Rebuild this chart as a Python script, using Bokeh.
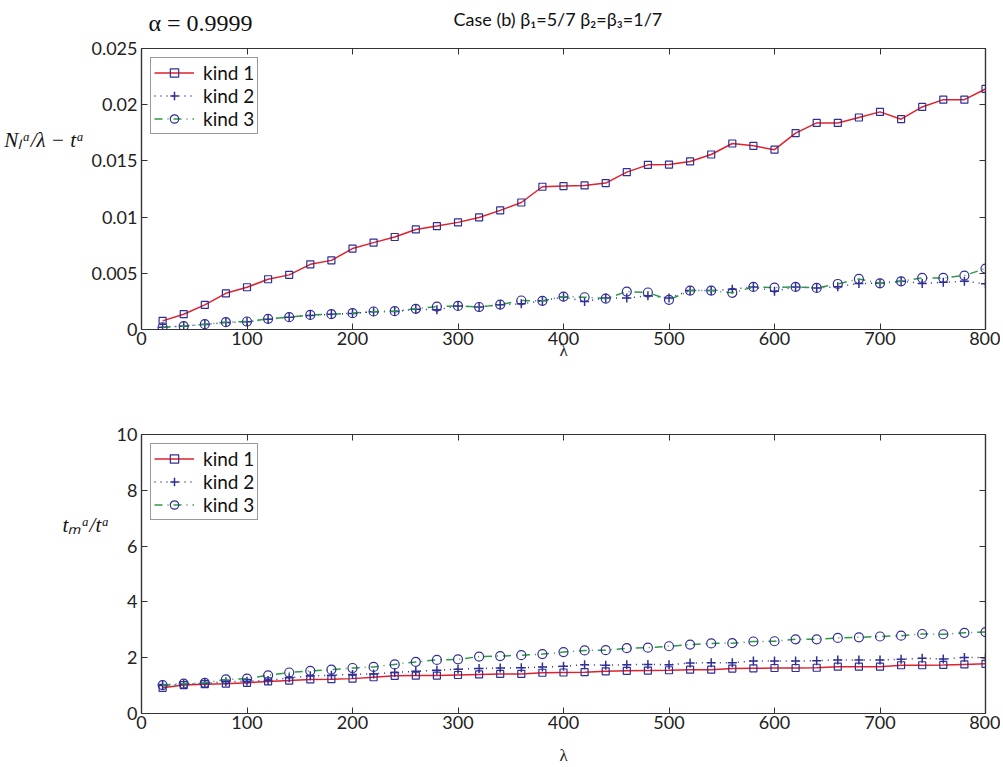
from bokeh.plotting import figure
from bokeh.models import (Range1d, LinearAxis, FixedTicker, Legend, LegendItem,
                          CustomJSTickFormatter)
from bokeh.core.properties import value
from bokeh.layouts import column
from bokeh.embed import file_html
from bokeh.resources import INLINE

# ---------------- data ----------------
lam = [20, 40, 60, 80, 100, 120, 140, 160, 180, 200, 220, 240, 260, 280, 300, 320, 340, 360, 380, 400,
       420, 440, 460, 480, 500, 520, 540, 560, 580, 600, 620, 640, 660, 680, 700, 720, 740, 760, 780, 800]

top_kind1 = [0.00077, 0.00136, 0.00219, 0.00322, 0.00376, 0.00447, 0.00486, 0.0058, 0.00615, 0.0072,
             0.00773, 0.00823, 0.0089, 0.0092, 0.00953, 0.00997, 0.0106, 0.0113, 0.0127, 0.01276,
             0.01282, 0.01303, 0.0140, 0.01465, 0.01467, 0.01495, 0.01557, 0.01655, 0.01634, 0.0160,
             0.01747, 0.01838, 0.01838, 0.01886, 0.01936, 0.01871, 0.0198, 0.02045, 0.02045, 0.0214]
top_kind2 = [0.0002, 0.0003, 0.00045, 0.00062, 0.00068, 0.00092, 0.0011, 0.00125, 0.00135, 0.00143,
             0.00158, 0.0016, 0.0018, 0.00175, 0.0021, 0.0020, 0.0022, 0.00228, 0.00255, 0.0029,
             0.0025, 0.0028, 0.0028, 0.0030, 0.0028, 0.00346, 0.00346, 0.00358, 0.00379, 0.0034,
             0.00379, 0.0037, 0.0038, 0.0041, 0.00411, 0.00429, 0.0041, 0.0042, 0.0043, 0.00406]
top_kind3 = [0.0002, 0.0003, 0.00047, 0.00065, 0.00071, 0.00095, 0.0011, 0.0013, 0.00136, 0.00145,
             0.0016, 0.00163, 0.00184, 0.00204, 0.0021, 0.0020, 0.00222, 0.00258, 0.00255, 0.00293,
             0.00287, 0.00275, 0.00337, 0.00329, 0.00264, 0.00346, 0.00346, 0.00326, 0.00379, 0.00373,
             0.00379, 0.0037, 0.00405, 0.0045, 0.00411, 0.00429, 0.00459, 0.00459, 0.0048, 0.00542]

bot_kind1 = [0.92, 1.02, 1.05, 1.07, 1.10, 1.15, 1.18, 1.22, 1.23, 1.25, 1.30, 1.35, 1.36, 1.36, 1.38,
             1.40, 1.42, 1.42, 1.46, 1.47, 1.48, 1.51, 1.53, 1.54, 1.55, 1.57, 1.57, 1.61, 1.62, 1.63,
             1.63, 1.64, 1.68, 1.68, 1.68, 1.73, 1.73, 1.74, 1.76, 1.78]
bot_kind2 = [1.00, 1.05, 1.08, 1.14, 1.16, 1.18, 1.28, 1.35, 1.37, 1.40, 1.42, 1.47, 1.51, 1.55, 1.59,
             1.61, 1.63, 1.64, 1.67, 1.69, 1.75, 1.73, 1.75, 1.76, 1.75, 1.81, 1.82, 1.82, 1.88, 1.88,
             1.88, 1.89, 1.92, 1.92, 1.92, 1.94, 1.98, 1.95, 2.01, 2.00]
bot_kind3 = [1.02, 1.07, 1.10, 1.22, 1.25, 1.37, 1.47, 1.53, 1.57, 1.63, 1.67, 1.76, 1.85, 1.92, 1.94,
             2.04, 2.06, 2.09, 2.13, 2.20, 2.26, 2.27, 2.34, 2.36, 2.41, 2.47, 2.51, 2.52, 2.58, 2.59,
             2.66, 2.66, 2.71, 2.73, 2.76, 2.79, 2.85, 2.84, 2.89, 2.92]

x_ticks = [0, 100, 200, 300, 400, 500, 600, 700, 800]
top_y_ticks = [0, 0.005, 0.01, 0.015, 0.02, 0.025]
bot_y_ticks = [0, 2, 4, 6, 8, 10]
series_labels = ["kind 1", "kind 2", "kind 3"]
alpha_text = "α = 0.9999"
case_text = "Case (b) β₁=5/7 β₂=β₃=1/7"
top_ylabel = "Nₗᵅ/λ − tᵃ"
bot_ylabel = "tₘᵃ/tᵃ"

RED = "#e3202a"
GREEN = "#2e9a44"
BLUE = "#2f2f96"
AXC = "#333333"
TICK_FONT = "Lato"
W = 1000
FRAME_L, FRAME_R = 141, 985


def make_fig(height, top_border, bottom_border, y_end, y_ticks, k1, k2, k3, ylabel, xlab_standoff):
    p = figure(width=W, height=height, output_backend="svg", toolbar_location=None,
               x_range=Range1d(0, 800), y_range=Range1d(0, y_end),
               min_border_left=FRAME_L, min_border_right=W - FRAME_R,
               min_border_top=top_border, min_border_bottom=bottom_border)
    p.grid.visible = False
    p.outline_line_color = AXC
    p.outline_line_width = 1.2

    for ax in (p.xaxis[0], p.yaxis[0]):
        ax.major_tick_in = 6
        ax.major_tick_out = 0
        ax.minor_tick_line_color = None
        ax.axis_line_color = AXC
        ax.axis_line_width = 1.2
        ax.major_tick_line_color = AXC
        ax.major_label_text_font = TICK_FONT
        ax.major_label_text_font_size = "18px"
        ax.major_label_text_color = "#222222"
    p.xaxis[0].ticker = FixedTicker(ticks=x_ticks)
    p.yaxis[0].ticker = FixedTicker(ticks=y_ticks)
    p.xaxis[0].major_label_standoff = 2
    p.yaxis[0].major_label_standoff = 4
    p.yaxis[0].formatter = CustomJSTickFormatter(
        code="var s = tick.toFixed(3); s = s.replace(/0+$/, ''); s = s.replace(/\\.$/, ''); return s;")
    p.xaxis[0].axis_label = "λ"
    p.xaxis[0].axis_label_text_font = "Liberation Serif"
    p.xaxis[0].axis_label_text_font_style = "normal"
    p.xaxis[0].axis_label_text_font_size = "17px"
    p.xaxis[0].axis_label_standoff = xlab_standoff
    p.xaxis[0].axis_label_text_color = "#222222"

    # horizontal y label, lifted towards the upper part of the axis by blank lines
    yax = p.yaxis[0]
    yax.axis_label = ylabel + "\n \n \n \n "
    yax.axis_label_text_font = "Liberation Serif"
    yax.axis_label_text_font_style = "italic"
    yax.axis_label_text_font_size = "21px"
    yax.axis_label_text_line_height = 1.03
    yax.axis_label_text_color = "#111111"
    yax.axis_label_standoff = 4
    if "axis_label_orientation" in yax.properties():
        yax.axis_label_orientation = "horizontal"

    # mirrored axes (ticks only) on top and right
    for side, ticks in (("above", x_ticks), ("right", y_ticks)):
        ax = LinearAxis(ticker=FixedTicker(ticks=ticks),
                        formatter=CustomJSTickFormatter(code="return '';"),
                        major_tick_in=6, major_tick_out=0, minor_tick_line_color=None,
                        axis_line_color=AXC, axis_line_width=1.2, major_tick_line_color=AXC,
                        major_label_standoff=0)
        p.add_layout(ax, side)

    l1 = p.line(lam, k1, line_color=RED, line_width=1.5)
    s1 = p.scatter(lam, k1, marker="square", size=7, fill_color=None, line_color=BLUE, line_width=1.2)
    l2 = p.line(lam, k2, line_color=BLUE, line_width=1.5, line_dash="1 5")
    s2 = p.scatter(lam, k2, marker="cross", size=9, line_color=BLUE, line_width=1.5)
    l3 = p.line(lam, k3, line_color=GREEN, line_width=1.5, line_dash="8 5 1 5")
    s3 = p.scatter(lam, k3, marker="circle", size=9, fill_color=None, line_color=BLUE, line_width=1.2)

    legend = Legend(items=[LegendItem(label=series_labels[0], renderers=[l1, s1]),
                           LegendItem(label=series_labels[1], renderers=[l2, s2]),
                           LegendItem(label=series_labels[2], renderers=[l3, s3])],
                    location="top_left", margin=9, padding=3, spacing=0,
                    label_height=21, glyph_height=21, glyph_width=40, label_standoff=9,
                    label_text_font=TICK_FONT, label_text_font_size="19px",
                    label_text_color="#111111",
                    border_line_color=AXC, border_line_width=1.2,
                    background_fill_alpha=1.0)
    p.add_layout(legend, "center")
    return p


# header strip holding the two titles (its frame is aligned with the plot frames)
HEADER_H = 36
header = figure(width=W, height=HEADER_H, output_backend="svg", toolbar_location=None,
                x_range=Range1d(FRAME_L, FRAME_R), y_range=Range1d(0, HEADER_H),
                x_axis_type=None, y_axis_type=None, min_border=0)
header.grid.visible = False
header.outline_line_color = None
header.text(x=[148], y=[HEADER_H - 22], text=[alpha_text], text_font=value("Liberation Serif"),
            text_font_size="24px", text_color="#111111", text_baseline="alphabetic")
header.text(x=[453], y=[HEADER_H - 18], text=[case_text], text_font=value(TICK_FONT),
            text_font_size="18px", text_color="#111111", text_align="left",
            text_baseline="alphabetic")

p1 = make_fig(348, 12, 55, 0.025, top_y_ticks, top_kind1, top_kind2, top_kind3, top_ylabel, -7)
p2 = make_fig(383, 50, 52, 10, bot_y_ticks, bot_kind1, bot_kind2, bot_kind3, bot_ylabel, 14)

layout = column(header, p1, p2, spacing=0)
open("out.html", "w").write(file_html(layout, INLINE))
